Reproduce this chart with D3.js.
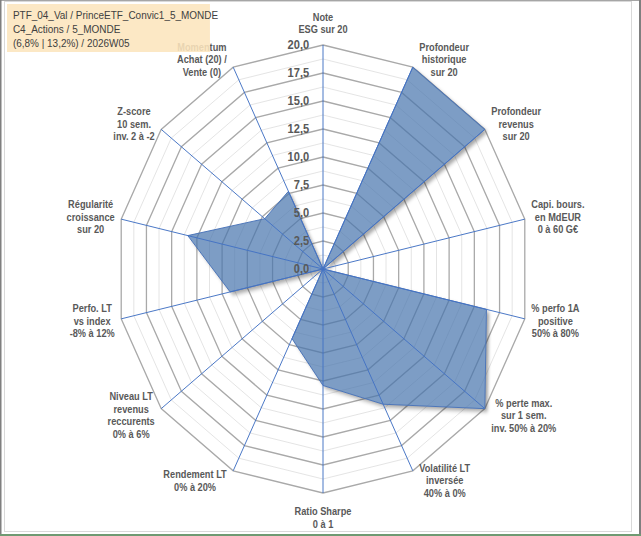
<!DOCTYPE html>
<html>
<head>
<meta charset="utf-8">
<script src="https://cdn.jsdelivr.net/npm/d3@7"></script>
<style>
  html, body { margin: 0; padding: 0; background: #fff; }
  svg { display: block; }
</style>
</head>
<body>
<svg id="chart" width="641" height="536"></svg>
<script>
// data
const categories = [
    ["Note", "ESG sur 20"],
    ["Profondeur", "historique", "sur 20"],
    ["Profondeur", "revenus", "sur 20"],
    ["Capi. bours.", "en MdEUR", "0 à 60 G€"],
    ["% perfo 1A", "positive", "50% à 80%"],
    ["% perte max.", "sur 1 sem.", "inv. 50% à 20%"],
    ["Volatilité LT", "inversée", "40% à 0%"],
    ["Ratio Sharpe", "0 à 1"],
    ["Rendement LT", "0% à 20%"],
    ["Niveau LT", "revenus", "reccurents", "0% à 6%"],
    ["Perfo. LT", "vs index", "-8% à 12%"],
    ["Régularité", "croissance", "sur 20"],
    ["Z-score", "10 sem.", "inv. 2 à -2"],
    ["Momentum", "Achat (20) /", "Vente (0)"]
];
const values = [0, 20, 20, 0, 16.2, 20, 13.4, 10.4, 6.9, 0, 9.2, 13.4, 7.2, 7.7];
const tickValues = [0, 2.5, 5, 7.5, 10, 12.5, 15, 17.5, 20];
const minorValues = [1.25, 3.75, 6.25, 8.75, 11.25, 13.75, 16.25, 18.75];
const titleLines = [
    "PTF_04_Val / PrinceETF_Convic1_5_MONDE",
    "C4_Actions / 5_MONDE",
    "(6,8% | 13,2%) / 2026W05"
];

const svg = d3.select('#chart');
const sx = 0.924;               // picture is squeezed horizontally
const cx = 323 / sx, cy = 269, R = 224;
const n = categories.length;

// frame
svg.append('rect').attr('x', 4.5).attr('y', 1.5).attr('width', 627).attr('height', 530)
    .attr('fill', '#fff').attr('stroke', '#d9d9d9');
svg.append('line').attr('x1', 0).attr('x2', 641).attr('y1', 0.5).attr('y2', 0.5).attr('stroke', '#a6a6a6');
svg.append('line').attr('x1', 0.75).attr('x2', 0.75).attr('y1', 0).attr('y2', 536).attr('stroke', '#7f7f7f').attr('stroke-width', 1.5);
svg.append('line').attr('x1', 640).attr('x2', 640).attr('y1', 0).attr('y2', 536).attr('stroke', '#7f7f7f').attr('stroke-width', 2);
svg.append('line').attr('x1', 0).attr('x2', 641).attr('y1', 535).attr('y2', 535).attr('stroke', '#6f9a72').attr('stroke-width', 2);

const root = svg.append('g').attr('transform', `scale(${sx},1)`);
const g = root.append('g').attr('transform', `translate(${cx},${cy})`);

const r = d3.scaleLinear().domain([0, 20]).range([0, R]);
const angle = i => i * 2 * Math.PI / n;
const ring = v => d3.lineRadial()
    .angle((d, i) => angle(i))
    .radius(() => r(v))
    .curve(d3.curveLinearClosed)(categories);
const area = d3.lineRadial()
    .angle((d, i) => angle(i))
    .radius(d => r(d))
    .curve(d3.curveLinearClosed);

// shadow only outside the shape
const defs = svg.append('defs');
defs.append('filter').attr('id', 'blur').attr('x', '-20%').attr('y', '-20%').attr('width', '140%').attr('height', '140%')
    .append('feGaussianBlur').attr('stdDeviation', 2);
const mask = defs.append('mask').attr('id', 'outside')
    .attr('maskUnits', 'userSpaceOnUse').attr('x', -400).attr('y', -300).attr('width', 800).attr('height', 600);
mask.append('rect').attr('x', -400).attr('y', -300).attr('width', 800).attr('height', 600).attr('fill', '#fff');
mask.append('path').attr('d', area(values)).attr('fill', '#000');

// grid
g.selectAll('.minor').data(minorValues).join('path')
    .attr('d', ring).attr('fill', 'none').attr('stroke', '#e3e3e3').attr('stroke-width', 1);
g.selectAll('.major').data(tickValues.filter(v => v > 0)).join('path')
    .attr('d', ring).attr('fill', 'none').attr('stroke', '#a9a9a9').attr('stroke-width', 1.4);

// series
g.append('g').attr('mask', 'url(#outside)')
    .append('path')
    .attr('d', area(values))
    .attr('transform', 'translate(3,3)')
    .attr('fill', '#000').attr('fill-opacity', 0.35)
    .attr('filter', 'url(#blur)');
g.append('path')
    .attr('d', area(values))
    .attr('fill', 'rgb(70,115,172)').attr('fill-opacity', 0.7)
    .attr('stroke', '#4a74b8').attr('stroke-width', 1);

// spokes
g.selectAll('.spoke').data(categories).join('line')
    .attr('x1', 0).attr('y1', 0)
    .attr('x2', (d, i) => r(20) * Math.sin(angle(i)))
    .attr('y2', (d, i) => -r(20) * Math.cos(angle(i)))
    .attr('stroke', '#4472c4').attr('stroke-width', 1);

// value ticks
const fmt = d3.format('.1f');
g.selectAll('.tick').data(tickValues).join('text')
    .attr('x', -15).attr('y', d => -r(d)).attr('dy', '0.36em')
    .attr('text-anchor', 'end')
    .attr('font-family', 'Liberation Sans, Arial, sans-serif')
    .attr('font-weight', 'bold').attr('font-size', 12)
    .attr('fill', '#595959')
    .text(d => fmt(d).replace('.', ','));

// category labels
const lineH = 12.5;
categories.forEach((lines, i) => {
    const a = angle(i), s = Math.sin(a), c = Math.cos(a);
    const t = g.append('text')
        .attr('text-anchor', 'middle')
        .attr('font-family', 'Liberation Sans, Arial, sans-serif')
        .attr('font-weight', 'bold').attr('font-size', 10)
        .attr('fill', '#595959');
    lines.forEach((l, k) => t.append('tspan').attr('x', 0).attr('dy', k ? lineH : 0).text(l));
    const w = d3.max(t.selectAll('tspan').nodes(), nd => nd.getComputedTextLength());
    const h = lines.length * lineH;
    const vx = r(20) * s, vy = -r(20) * c;
    let dx, dy;
    if (Math.abs(s) < 0.01) {
        dx = 0;
        dy = -c * (h / 2 + (c > 0 ? 9 : 12.5));
    } else {
        dx = Math.sign(s) * (w / 2 + 7);
        dy = -c * (c > 0 ? 8.5 : 11);
    }
    const bx = vx + dx, by = vy + dy - (lines.length - 1) * lineH / 2 + 3.6;
    t.attr('transform', `translate(${bx},${by})`);
});

// title box
root.append('rect')
    .attr('x', 7.6).attr('y', 4).attr('width', 219.6).attr('height', 48)
    .attr('fill', '#fce5bd').attr('fill-opacity', 0.88);
root.append('text')
    .attr('font-family', 'Liberation Sans, Arial, sans-serif')
    .attr('font-size', 10.8).attr('fill', '#404040')
    .selectAll('tspan').data(titleLines).join('tspan')
    .attr('x', 14).attr('y', (d, i) => 19.5 + i * 13.7)
    .text(d => d);
</script>
</body>
</html>
